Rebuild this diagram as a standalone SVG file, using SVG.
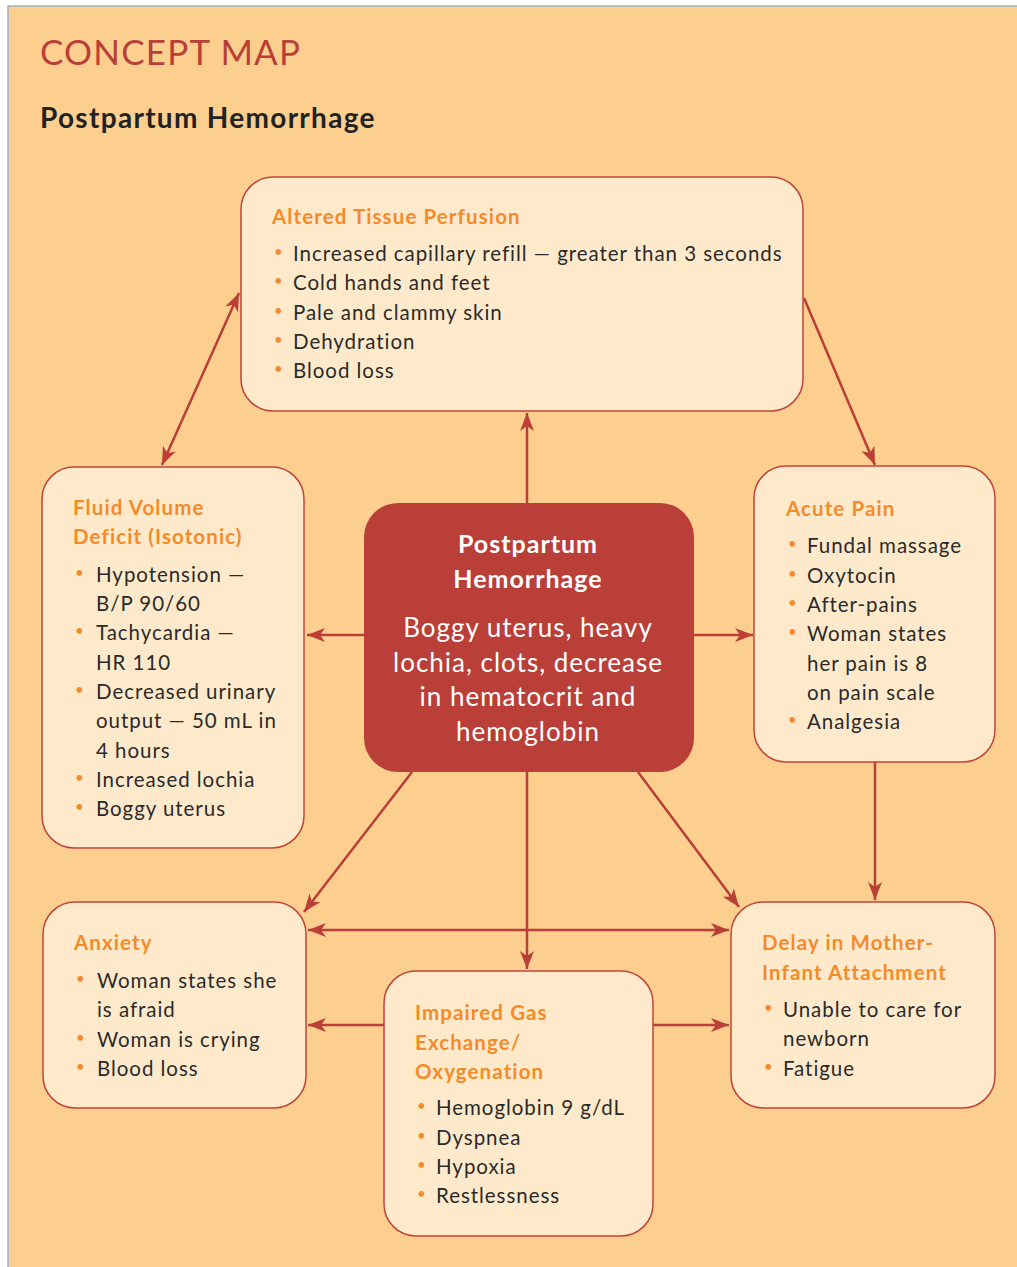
<svg xmlns="http://www.w3.org/2000/svg" width="1017" height="1267" viewBox="0 0 1017 1267">
<defs>
<style>
.box{fill:#FEEACB;stroke:#C0443C;stroke-width:1.5}
.ctr{fill:#B93F38}
.ttl{font-family:Lato,"Open Sans",sans-serif;font-weight:bold;font-size:20.5px;letter-spacing:1.1px;fill:#F58A2A}
.txt{font-family:Lato,"Open Sans",sans-serif;font-size:20.5px;letter-spacing:0.95px;fill:#2A2A2A}
.bul{font-family:Lato,"Open Sans",sans-serif;font-size:15px;fill:#F58A2A}
.cw{font-family:Lato,"Open Sans",sans-serif;fill:#FFFFFF;text-anchor:middle}
.con{stroke:#B93F38;stroke-width:2.5;fill:none;marker-end:url(#ah)}
.bi{marker-start:url(#ah)}
</style>
<marker id="ah" viewBox="0 0 18 14" refX="18" refY="7" markerWidth="18" markerHeight="14" markerUnits="userSpaceOnUse" orient="auto-start-reverse">
<path d="M0,0 L18,7 L0,14 L5,7 z" fill="#B93F38"/>
</marker>
</defs>
<rect x="0" y="0" width="1017" height="1267" fill="#FFFFFF"/>
<rect x="8" y="6" width="1015" height="1270" fill="#FCCF8E" stroke="#9FB3C8" stroke-width="1.5"/>
<text x="40" y="65" font-family="Lato,'Open Sans',sans-serif" font-size="35" letter-spacing="1.2" fill="#B93F38">CONCEPT MAP</text>
<text x="40" y="128" font-family="Lato,'Open Sans',sans-serif" font-size="28" letter-spacing="1.3" font-weight="bold" fill="#222222">Postpartum Hemorrhage</text>

<g id="connectors">
<path class="con bi" d="M162,465 L239,293"/>
<path class="con" d="M804,298 L875,465"/>
<path class="con" d="M527,503 L527,413"/>
<path class="con" d="M364,635 L307,635"/>
<path class="con" d="M694,635 L753,635"/>
<path class="con" d="M412,772 L304,912"/>
<path class="con" d="M527,772 L527,969"/>
<path class="con" d="M638,772 L739,907"/>
<path class="con" d="M875,762 L875,900"/>
<path class="con bi" d="M308,930 L729,930"/>
<path class="con" d="M384,1025 L308,1025"/>
<path class="con" d="M653,1025 L729,1025"/>
</g>

<g id="altered-tissue-perfusion">
<rect class="box" x="241" y="177" width="562" height="234" rx="32"/>
<text class="ttl" x="272" y="224">Altered Tissue Perfusion</text>
<text class="bul" x="274" y="257">•</text><text class="txt" x="293" y="261">Increased capillary refill — greater than 3 seconds</text>
<text class="bul" x="274" y="286">•</text><text class="txt" x="293" y="290">Cold hands and feet</text>
<text class="bul" x="274" y="316">•</text><text class="txt" x="293" y="320">Pale and clammy skin</text>
<text class="bul" x="274" y="345">•</text><text class="txt" x="293" y="349">Dehydration</text>
<text class="bul" x="274" y="374">•</text><text class="txt" x="293" y="378">Blood loss</text>
</g>

<g id="fluid-volume-deficit">
<rect class="box" x="42" y="467" width="262" height="381" rx="32"/>
<text class="ttl" x="73" y="515">Fluid Volume</text>
<text class="ttl" x="73" y="544">Deficit (Isotonic)</text>
<text class="bul" x="75" y="578">•</text><text class="txt" x="96" y="582">Hypotension —</text>
<text class="txt" x="96" y="611">B/P 90/60</text>
<text class="bul" x="75" y="636">•</text><text class="txt" x="96" y="640">Tachycardia —</text>
<text class="txt" x="96" y="670">HR 110</text>
<text class="bul" x="75" y="695">•</text><text class="txt" x="96" y="699">Decreased urinary</text>
<text class="txt" x="96" y="728">output — 50 mL in</text>
<text class="txt" x="96" y="758">4 hours</text>
<text class="bul" x="75" y="783">•</text><text class="txt" x="96" y="787">Increased lochia</text>
<text class="bul" x="75" y="812">•</text><text class="txt" x="96" y="816">Boggy uterus</text>
</g>

<g id="postpartum-hemorrhage">
<rect class="ctr" x="364" y="503" width="330" height="269" rx="34"/>
<text class="cw" x="528" y="553" font-size="25" letter-spacing="1" font-weight="bold">Postpartum</text>
<text class="cw" x="528" y="588" font-size="25" letter-spacing="1" font-weight="bold">Hemorrhage</text>
<text class="cw" x="528" y="637" font-size="26" letter-spacing="1">Boggy uterus, heavy</text>
<text class="cw" x="528" y="672" font-size="26" letter-spacing="1">lochia, clots, decrease</text>
<text class="cw" x="528" y="706" font-size="26" letter-spacing="1">in hematocrit and</text>
<text class="cw" x="528" y="741" font-size="26" letter-spacing="1">hemoglobin</text>
</g>

<g id="acute-pain">
<rect class="box" x="754" y="466" width="241" height="296" rx="32"/>
<text class="ttl" x="786" y="516">Acute Pain</text>
<text class="bul" x="788" y="549">•</text><text class="txt" x="807" y="553">Fundal massage</text>
<text class="bul" x="788" y="579">•</text><text class="txt" x="807" y="583">Oxytocin</text>
<text class="bul" x="788" y="608">•</text><text class="txt" x="807" y="612">After-pains</text>
<text class="bul" x="788" y="637">•</text><text class="txt" x="807" y="641">Woman states</text>
<text class="txt" x="807" y="671">her pain is 8</text>
<text class="txt" x="807" y="700">on pain scale</text>
<text class="bul" x="788" y="725">•</text><text class="txt" x="807" y="729">Analgesia</text>
</g>

<g id="anxiety">
<rect class="box" x="43" y="902" width="263" height="206" rx="32"/>
<text class="ttl" x="74" y="950">Anxiety</text>
<text class="bul" x="76" y="984">•</text><text class="txt" x="97" y="988">Woman states she</text>
<text class="txt" x="97" y="1017">is afraid</text>
<text class="bul" x="76" y="1043">•</text><text class="txt" x="97" y="1047">Woman is crying</text>
<text class="bul" x="76" y="1072">•</text><text class="txt" x="97" y="1076">Blood loss</text>
</g>

<g id="impaired-gas-exchange">
<rect class="box" x="384" y="971" width="269" height="265" rx="32"/>
<text class="ttl" x="415" y="1020">Impaired Gas</text>
<text class="ttl" x="415" y="1050">Exchange/</text>
<text class="ttl" x="415" y="1079">Oxygenation</text>
<text class="bul" x="417" y="1111">•</text><text class="txt" x="436" y="1115">Hemoglobin 9 g/dL</text>
<text class="bul" x="417" y="1141">•</text><text class="txt" x="436" y="1145">Dyspnea</text>
<text class="bul" x="417" y="1170">•</text><text class="txt" x="436" y="1174">Hypoxia</text>
<text class="bul" x="417" y="1199">•</text><text class="txt" x="436" y="1203">Restlessness</text>
</g>

<g id="delay-mother-infant-attachment">
<rect class="box" x="731" y="902" width="264" height="206" rx="32"/>
<text class="ttl" x="762" y="950">Delay in Mother-</text>
<text class="ttl" x="762" y="980">Infant Attachment</text>
<text class="bul" x="764" y="1013">•</text><text class="txt" x="783" y="1017">Unable to care for</text>
<text class="txt" x="783" y="1046">newborn</text>
<text class="bul" x="764" y="1072">•</text><text class="txt" x="783" y="1076">Fatigue</text>
</g>
</svg>
